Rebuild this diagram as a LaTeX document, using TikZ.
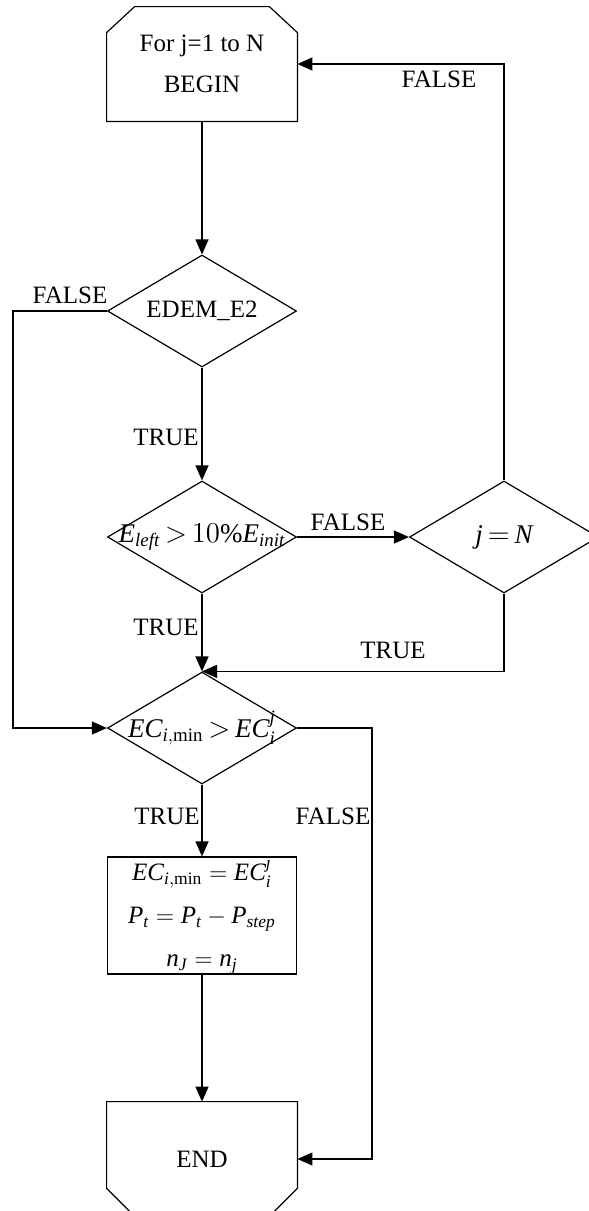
\documentclass[tikz,border=0pt]{standalone}
\usepackage{amsmath}
\usepackage{fontspec}
\setmainfont{Liberation Serif}
\usetikzlibrary{shapes.geometric,arrows.meta,calc}
\newcommand{\mv}[1]{\mathit{#1}}
\newcommand{\tightrel}{\thickmuskip=3mu\relax}
\begin{document}
\begin{tikzpicture}[x=0.5pt,y=-0.5pt,
  ln/.style={line width=0.6pt},
  arr/.style={ln,-{Triangle[length=7.5pt,width=6.5pt]}},
  lbl/.style={font=\fontsize{12.5}{14}\selectfont,inner sep=0pt},
  dia/.style={diamond,draw,ln,minimum width=94.5pt,minimum height=56pt,inner sep=0pt,font=\fontsize{12.5}{15}\selectfont},
  mathdia/.style={dia,font=\fontsize{13.5}{15}\selectfont},
  termbox/.style={rectangle,minimum width=95pt,minimum height=57pt,inner sep=0pt,align=center,font=\fontsize{12.5}{20.5}\selectfont},
  procbox/.style={rectangle,draw,ln,minimum width=94.5pt,minimum height=56.5pt,inner sep=0pt,align=center,font=\fontsize{12.5}{21.5}\selectfont}]
\useasboundingbox (0,0) rectangle (589,1211);

% nodes
\node[termbox] (begin) at (202,64) {\raisebox{-1.5pt}{For j=1 to N}\\\raisebox{-1.5pt}{BEGIN}};
\draw[ln] (begin.south west) -- ($(begin.north west)+(0,26)$) -- ($(begin.north west)+(28,0)$)
  -- ($(begin.north east)+(-28,0)$) -- ($(begin.north east)+(0,26)$) -- (begin.south east) -- cycle;

\node[dia] (edem) at (202,311) {\makebox[0pt]{EDEM\_E2}};
\node[mathdia] (eleft) at (202,537) {\makebox[0pt]{$\tightrel\mv{E}_{\mv{left}} > 10\%\mv{E}_{\mv{init}}$}};
\node[mathdia] (jn) at (504,537) {\makebox[0pt]{$\tightrel\mv{j} = \mv{N}$}};
\node[mathdia] (ecmin) at (202,728) {\makebox[0pt]{$\tightrel\mv{EC}_{\mv{i},\mathrm{min}} > \mv{EC}_{\mv{i}}^{\mv{j}}$}};

\node[procbox] (proc) at (202,915.5) {$\mv{EC}_{\mv{i},\mathrm{min}} = \mv{EC}_{\mv{i}}^{\mv{j}}$\\
  $\mv{P}_{\mv{t}} = \mv{P}_{\mv{t}} - \mv{P}_{\mv{step}}$\\
  $\mv{n}_{\mv{J}} = \mv{n}_{\mv{j}}$};

\node[termbox] (end) at (202,1159) {END};
\draw[ln] (end.north west) -- (end.north east) -- ($(end.south east)+(0,-28)$) -- ($(end.south east)+(-28,0)$)
  -- ($(end.south west)+(28,0)$) -- ($(end.south west)+(0,-28)$) -- cycle;

% corner coordinates
\coordinate (lft) at (13,0);
\coordinate (rgt) at (372,0);

% connectors
\draw[arr] (begin.south) -- (edem.north);
\draw[arr] (edem.west) -- (edem.west -| lft) -- (ecmin.west -| lft) -- (ecmin.west);
\draw[arr] (edem.south) -- (eleft.north);
\draw[arr] (eleft.east) -- (jn.west);
\draw[arr] (jn.north) -- (jn.north |- begin.east) -- (begin.east);
\draw[arr] (eleft.south) -- (ecmin.north);
\draw[arr] (jn.south) -- (jn.south |- ecmin.north) -- (ecmin.north);
\draw[arr] (ecmin.south) -- (proc.north);
\draw[arr] (ecmin.east) -- (ecmin.east -| rgt) -- (end.east -| rgt) -- (end.east);
\draw[arr] (proc.south) -- (end.north);

% labels
\node[lbl] (f1) at (70,295) {FALSE};
\node[lbl] (t1) at (166,437) {TRUE};
\node[lbl] (f2) at (348,522) {FALSE};
\node[lbl] (f3) at (439,79) {FALSE};
\node[lbl] (t2) at (166,627) {TRUE};
\node[lbl] (t3) at (393,650) {TRUE};
\node[lbl] (t4) at (167,816) {TRUE};
\node[lbl] (f4) at (333,816) {FALSE};
\end{tikzpicture}
\end{document}
